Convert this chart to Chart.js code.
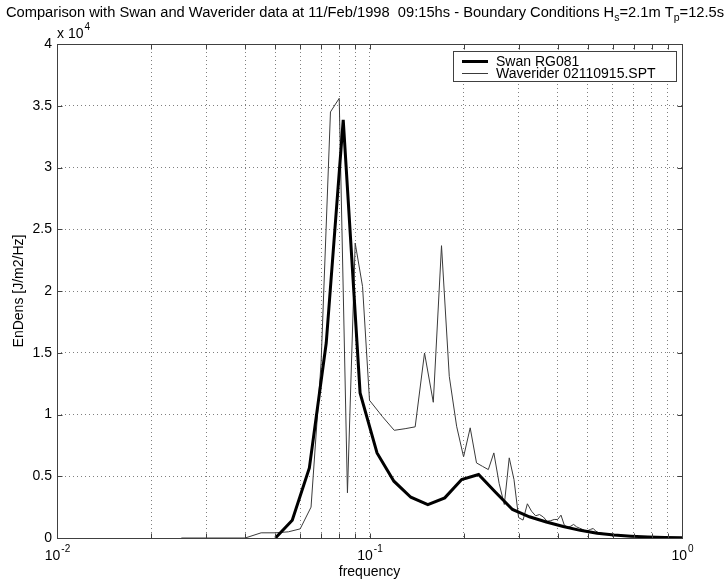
<!DOCTYPE html>
<html>
<head>
<meta charset="utf-8">
<script src="https://cdn.jsdelivr.net/npm/chart.js@4/dist/chart.umd.min.js"></script>
<style>
  html, body { margin: 0; padding: 0; background: #fff; }
  #wrap { width: 727px; height: 581px; }
</style>
</head>
<body>
<div id="wrap"><canvas id="spec" width="727" height="581"></canvas></div>
<script>
// SWAN RG081 spectrum (frequency [Hz], EnDens [J/m2/Hz])
const swanFreq = [0.0500, 0.0566, 0.0642, 0.0727, 0.0824, 0.0933, 0.1057, 0.1197, 0.1356,
  0.1537, 0.1741, 0.1972, 0.2234, 0.2531, 0.2867, 0.3248, 0.3680, 0.4169, 0.4723,
  0.5351, 0.6062, 0.6867, 0.7779, 0.8813, 1.0000];
const swanEnDens = [0, 1440, 5680, 15790, 33860, 11750, 6890, 4600, 3300,
  2710, 3250, 4730, 5140, 3700, 2310, 1720, 1300, 930, 620,
  380, 240, 150, 90, 50, 30];

// Waverider 02110915.SPT
const waveFreq = [0.025, 0.030, 0.035, 0.040, 0.045, 0.050, 0.055, 0.060, 0.065, 0.070,
  0.075, 0.080, 0.085, 0.090, 0.095, 0.100,
  0.11, 0.12, 0.13, 0.14, 0.15, 0.16, 0.17, 0.18, 0.19, 0.20,
  0.21, 0.22, 0.23, 0.24, 0.25, 0.26, 0.27, 0.28, 0.29, 0.30,
  0.31, 0.32, 0.33, 0.34, 0.35, 0.36, 0.37, 0.38, 0.39, 0.40,
  0.41, 0.42, 0.43, 0.44, 0.45, 0.46, 0.47, 0.48, 0.49, 0.50,
  0.51, 0.52, 0.53, 0.54, 0.55, 0.56, 0.57, 0.58];
const waveEnDens = [0, 0, 0, 0, 420, 420, 500, 740, 2500, 14170,
  34500, 35600, 3660, 23880, 20370, 11150,
  9830, 8720, 8850, 9000, 14980, 10990, 23670, 13090, 9050, 6570,
  8920, 6080, 5800, 5540, 6890, 4400, 2710, 6490, 4730, 1650,
  1450, 2770, 2170, 1800, 1900, 1700, 1360, 1400, 1500, 1500,
  1850, 1050, 850, 950, 1100, 900, 800, 700, 580, 600,
  700, 770, 550, 450, 400, 360, 320, 280];

// axis ticks
const xTicks = [0.01, 0.02, 0.03, 0.04, 0.05, 0.06, 0.07, 0.08, 0.09,
  0.1, 0.2, 0.3, 0.4, 0.5, 0.6, 0.7, 0.8, 0.9, 1];
const xLabelExp = [-2, -1, 0];
const yTicks = [0, 5000, 10000, 15000, 20000, 25000, 30000, 35000, 40000];

const titleParts = [
  ['Comparison with Swan and Waverider data at 11/Feb/1998  09:15hs - Boundary Conditions H', 0],
  ['s', 1],
  ['=2.1m T', 0],
  ['p', 1],
  ['=12.5s', 0]
];

const FONT = '"Liberation Sans", Arial, Helvetica, sans-serif';
const F14 = '14px ' + FONT;
const F10 = '10px ' + FONT;

function pts(xs, ys) {
  return xs.map((f, i) => ({ x: f, y: ys[i] }));
}

function drawPow(ctx, base, exp, cx, baseline) {
  ctx.font = F14;
  const wb = ctx.measureText(base).width;
  ctx.font = F10;
  const we = ctx.measureText(exp).width;
  const x0 = cx - (wb + we) / 2;
  ctx.textAlign = 'left';
  ctx.textBaseline = 'alphabetic';
  ctx.font = F14;
  ctx.fillText(base, x0, baseline);
  ctx.font = F10;
  ctx.fillText(exp, x0 + wb + 1, baseline - 8);
}

const deco = {
  id: 'deco',
  afterDraw(chart) {
    const { ctx, chartArea: a, scales: { x, y } } = chart;
    ctx.save();
    ctx.fillStyle = '#000';

    // axes box + inward ticks
    ctx.strokeStyle = '#404040';
    ctx.lineWidth = 1;
    ctx.setLineDash([]);
    const L = Math.round(a.left) + 0.5, R = Math.round(a.right) + 0.5;
    const T = Math.round(a.top) + 0.5, B = Math.round(a.bottom) + 0.5;
    ctx.strokeRect(L, T, R - L, B - T);
    ctx.beginPath();
    x.ticks.forEach(t => {
      const px = Math.round(x.getPixelForValue(t.value)) + 0.5;
      ctx.moveTo(px, T); ctx.lineTo(px, T + 5);
      ctx.moveTo(px, B); ctx.lineTo(px, B - 5);
    });
    y.ticks.forEach(t => {
      const py = Math.round(y.getPixelForValue(t.value)) + 0.5;
      ctx.moveTo(L, py); ctx.lineTo(L + 5, py);
      ctx.moveTo(R, py); ctx.lineTo(R - 5, py);
    });
    ctx.stroke();

    // x tick labels 10^n
    xLabelExp.forEach(e => {
      drawPow(ctx, '10', String(e), x.getPixelForValue(Math.pow(10, e)), a.bottom + 22);
    });

    // y exponent note
    ctx.font = F14;
    ctx.textAlign = 'left';
    ctx.fillText('x 10', a.left, a.top - 6);
    const w10 = ctx.measureText('x 10').width;
    ctx.font = F10;
    ctx.fillText('4', a.left + w10 + 1, a.top - 14);

    // axis titles
    ctx.font = F14;
    ctx.textAlign = 'center';
    ctx.fillText('frequency', (a.left + a.right) / 2, 576);
    ctx.save();
    ctx.translate(23, (a.top + a.bottom) / 2);
    ctx.rotate(-Math.PI / 2);
    ctx.fillText('EnDens [J/m2/Hz]', 0, 0);
    ctx.restore();

    // title with subscripts
    const big = '14.7px ' + FONT, small = '10.5px ' + FONT;
    let total = 0;
    titleParts.forEach(([s, sub]) => { ctx.font = sub ? small : big; total += ctx.measureText(s).width; });
    let tx = 365 - total / 2;
    ctx.textAlign = 'left';
    titleParts.forEach(([s, sub]) => {
      ctx.font = sub ? small : big;
      ctx.fillText(s, tx, sub ? 21 : 17);
      tx += ctx.measureText(s).width;
    });

    // legend
    const lx = 453, ly = 51, lw = 223, lh = 30;
    ctx.fillStyle = '#fff';
    ctx.fillRect(lx, ly, lw, lh);
    ctx.strokeStyle = '#404040';
    ctx.lineWidth = 1;
    ctx.strokeRect(lx + 0.5, ly + 0.5, lw, lh);
    chart.data.datasets.forEach((ds, i) => {
      const yy = ly + 10.5 + i * 12;
      ctx.strokeStyle = ds.borderColor;
      ctx.lineWidth = ds.borderWidth;
      ctx.beginPath();
      ctx.moveTo(462, yy); ctx.lineTo(488, yy);
      ctx.stroke();
      ctx.fillStyle = '#000';
      ctx.font = F14;
      ctx.textBaseline = 'middle';
      ctx.fillText(ds.label, 496, yy + 0.5);
    });
    ctx.restore();
  }
};

new Chart(document.getElementById('spec'), {
  type: 'line',
  data: {
    datasets: [
      {
        label: 'Swan RG081',
        data: pts(swanFreq, swanEnDens),
        borderColor: '#000',
        borderWidth: 3,
        pointRadius: 0,
        tension: 0
      },
      {
        label: 'Waverider 02110915.SPT',
        data: pts(waveFreq, waveEnDens),
        borderColor: '#3a3a3a',
        borderWidth: 1,
        pointRadius: 0,
        tension: 0
      }
    ]
  },
  options: {
    responsive: false,
    animation: false,
    layout: { padding: { left: 0, right: 45, top: 44, bottom: 43 } },
    plugins: {
      legend: { display: false },
      title: { display: false },
      tooltip: { enabled: false }
    },
    scales: {
      x: {
        type: 'logarithmic',
        min: 0.01,
        max: 1,
        afterBuildTicks: s => { s.ticks = xTicks.map(v => ({ value: v })); },
        afterFit: s => { s.height = 0; },
        ticks: { display: false },
        grid: { color: '#808080', drawTicks: false, lineWidth: 1 },
        border: { display: false, dash: [1, 3] }
      },
      y: {
        min: 0,
        max: 40000,
        afterBuildTicks: s => { s.ticks = yTicks.map(v => ({ value: v })); },
        afterFit: s => { s.width = 57; },
        ticks: {
          color: '#000',
          padding: 5,
          font: { family: FONT, size: 14 },
          callback: v => String(v / 10000)
        },
        grid: { color: '#808080', drawTicks: false, lineWidth: 1 },
        border: { display: false, dash: [1, 3] }
      }
    }
  },
  plugins: [deco]
});
</script>
</body>
</html>
